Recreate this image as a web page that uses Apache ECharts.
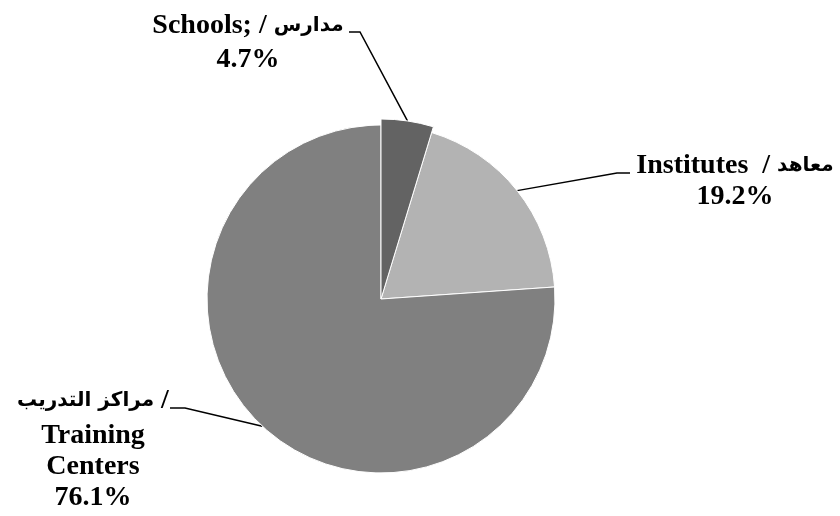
<!DOCTYPE html>
<html lang="en">
<head>
    <meta charset="UTF-8">
    <title>Pie</title>
    <script src="https://cdn.jsdelivr.net/npm/echarts@6/dist/echarts.min.js"></script>
    <style>
        html, body {margin: 0; padding: 0; background: #fff;}
        #main {width: 840px; height: 516px;}
    </style>
</head>
<body>
    <div id="main"></div>
    <script>
    // data
    var namesEn = ['Schools;', 'Institutes', 'Training\nCenters'];
    var namesAr = ['مدارس', 'معاهد', 'مراكز التدريب'];
    var values = [4.7, 19.2, 76.1];
    var colors = ['#636363', '#b3b3b3', '#808080'];

    // label placement (block centre, elbow, end of leader)
    var cx = 381, cy = 299, r = 174, rBig = 180;
    var labelPos = [
        {x: 248, y: 43, elbow: [360, 32], end: [349, 32], r: rBig},
        {x: 735, y: 181, elbow: [617, 173], end: [630, 173], r: r},
        {x: 93, y: 447, elbow: [185, 408], end: [170, 408], r: r}
    ];

    var total = values.reduce(function (a, b) { return a + b; }, 0);
    function edgePoint(i, rad) {
        var before = 0;
        for (var k = 0; k < i; k++) before += values[k];
        var a = (before + values[i] / 2) / total * Math.PI * 2;
        return [cx + rad * Math.sin(a), cy - rad * Math.cos(a)];
    }

    function labelText(i) {
        var pct = '{en|' + values[i].toFixed(1) + '%}';
        if (i === 0) return '{en0|' + namesEn[i] + ' / }{ar0|' + namesAr[i] + '}\n{en0|' + values[i].toFixed(1) + '%}';
        if (i === 1) return '{en|' + namesEn[i] + '  / }{ar|' + namesAr[i] + '}\n' + pct;
        return '{ar2|' + namesAr[i] + '}{en2| /}\n' +
            namesEn[i].split('\n').map(function (s) { return '{en|' + s + '}'; }).join('\n') + '\n' + pct;
    }

    var font = "'Liberation Serif', 'Times New Roman', serif";
    var arFont = "'DejaVu Sans', 'Noto Sans', sans-serif";
    var en = {fontFamily: font, fontWeight: 'bold', fontSize: 28, color: '#000', lineHeight: 31};
    var ar = {fontFamily: arFont, fontWeight: 'bold', fontSize: 20, color: '#000', lineHeight: 31};

    var myChart = echarts.init(document.getElementById('main'));
    var option = {
        animation: false,
        backgroundColor: '#fff',
        series: [
            {
                type: 'pie',
                center: [cx, cy],
                radius: r,
                startAngle: 90,
                itemStyle: {borderColor: '#fff', borderWidth: 1},
                data: values.map(function (v, i) {
                    return {name: namesEn[i], value: v, itemStyle: {color: colors[i]}};
                }),
                label: {
                    show: true,
                    position: 'outside',
                    formatter: function (p) { return labelText(p.dataIndex); },
                    align: 'center',
                    rich: {
                        en: en,
                        ar: ar,
                        en0: Object.assign({}, en, {lineHeight: 34}),
                        ar0: Object.assign({}, ar, {lineHeight: 34}),
                        en2: Object.assign({}, en, {lineHeight: 40}),
                        ar2: Object.assign({}, ar, {lineHeight: 40})
                    }
                },
                labelLine: {
                    show: true,
                    lineStyle: {color: '#000', width: 1.5}
                },
                labelLayout: function (params) {
                    var lp = labelPos[params.dataIndex];
                    return {
                        x: lp.x,
                        y: lp.y,
                        align: 'center',
                        verticalAlign: 'middle',
                        labelLinePoints: [edgePoint(params.dataIndex, lp.r), lp.elbow, lp.end]
                    };
                }
            },
            {
                // the schools slice sticks out a little
                type: 'pie',
                silent: true,
                center: [cx, cy],
                radius: rBig,
                startAngle: 90,
                label: {show: false},
                labelLine: {show: false},
                data: values.map(function (v, i) {
                    return {
                        name: namesEn[i],
                        value: v,
                        itemStyle: i === 0
                            ? {color: colors[i], borderColor: '#fff', borderWidth: 1}
                            : {color: 'rgba(0,0,0,0)', borderWidth: 0}
                    };
                })
            }
        ]
    };
    myChart.setOption(option);
    </script>
</body>
</html>
